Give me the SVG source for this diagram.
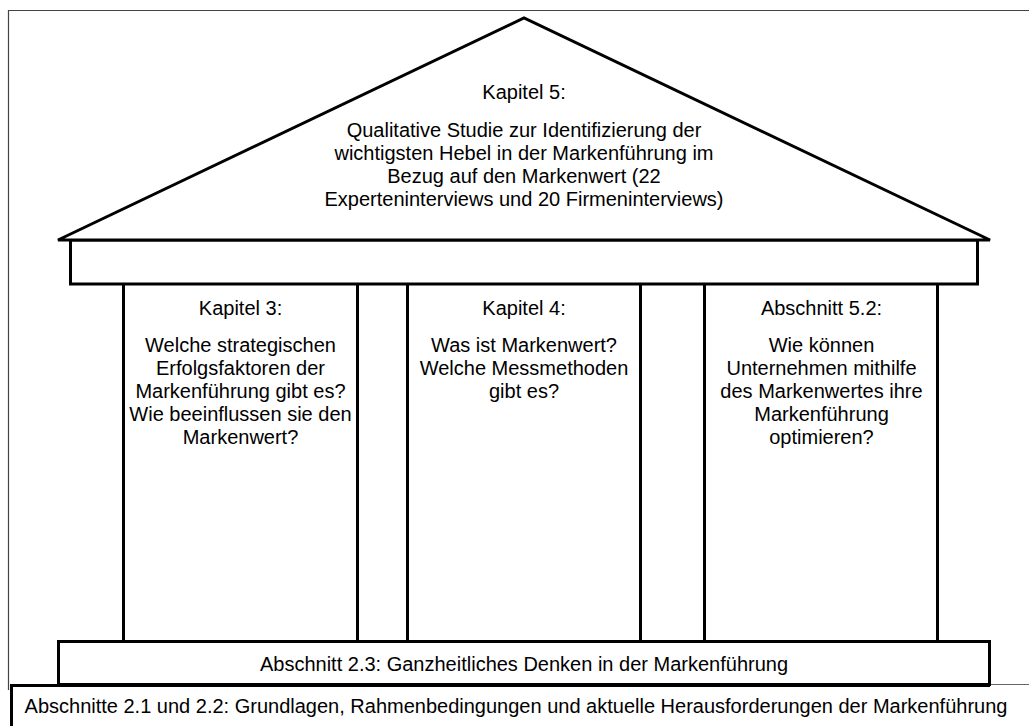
<svg xmlns="http://www.w3.org/2000/svg" width="1029" height="726" viewBox="0 0 1029 726">
<style>
.s{fill:#fff;stroke:#000;stroke-width:3;stroke-linejoin:miter}
.t{font-family:"Liberation Sans",Arial,sans-serif;font-size:20px;fill:#000;text-anchor:middle}
</style>
<rect x="0" y="0" width="1029" height="726" fill="#fff"/>
<g id="frame"><path d="M8.5,690 V10.5 H1040" fill="none" stroke="#444" stroke-width="1.2"/></g>
<g id="base">
<rect x="11.5" y="685.5" width="1030" height="50" fill="#fff"/>
<path d="M11.5,730 V685.5 H990" fill="none" stroke="#000" stroke-width="3"/>
<path d="M990,684.5 H1029" stroke="#666" stroke-width="1.2"/>
<text class="t" x="516" y="713">Abschnitte 2.1 und 2.2: Grundlagen, Rahmenbedingungen und aktuelle Herausforderungen der Markenführung</text>
</g>
<g id="step">
<rect class="s" x="58.5" y="641.5" width="931" height="43"/>
<text class="t" x="524" y="671">Abschnitt 2.3: Ganzheitliches Denken in der Markenführung</text>
</g>
<g id="col1">
<rect class="s" x="123.5" y="280" width="234" height="361.5"/>
<text class="t" x="240.5" y="315">Kapitel 3:</text>
<text class="t" x="240.5" y="352">Welche strategischen</text>
<text class="t" x="240.5" y="375">Erfolgsfaktoren der</text>
<text class="t" x="240.5" y="398">Markenführung gibt es?</text>
<text class="t" x="240.5" y="421">Wie beeinflussen sie den</text>
<text class="t" x="240.5" y="444">Markenwert?</text>
</g>
<g id="col2">
<rect class="s" x="407.5" y="280" width="233" height="361.5"/>
<text class="t" x="524" y="315">Kapitel 4:</text>
<text class="t" x="524" y="352">Was ist Markenwert?</text>
<text class="t" x="524" y="375">Welche Messmethoden</text>
<text class="t" x="524" y="398">gibt es?</text>
</g>
<g id="col3">
<rect class="s" x="704.5" y="280" width="233" height="361.5"/>
<text class="t" x="821.5" y="315">Abschnitt 5.2:</text>
<text class="t" x="821.5" y="352">Wie können</text>
<text class="t" x="821.5" y="375">Unternehmen mithilfe</text>
<text class="t" x="821.5" y="398">des Markenwertes ihre</text>
<text class="t" x="821.5" y="421">Markenführung</text>
<text class="t" x="821.5" y="444">optimieren?</text>
</g>
<g id="beam">
<rect class="s" x="70.5" y="240" width="907" height="44"/>
</g>
<g id="roof">
<polygon class="s" points="58,240 524,18 990,240"/>
<text class="t" x="524" y="99">Kapitel 5:</text>
<text class="t" x="524" y="137">Qualitative Studie zur Identifizierung der</text>
<text class="t" x="524" y="160">wichtigsten Hebel in der Markenführung im</text>
<text class="t" x="524" y="183">Bezug auf den Markenwert (22</text>
<text class="t" x="524" y="206">Experteninterviews und 20 Firmeninterviews)</text>
</g>
<g id="connectors"></g>
</svg>
